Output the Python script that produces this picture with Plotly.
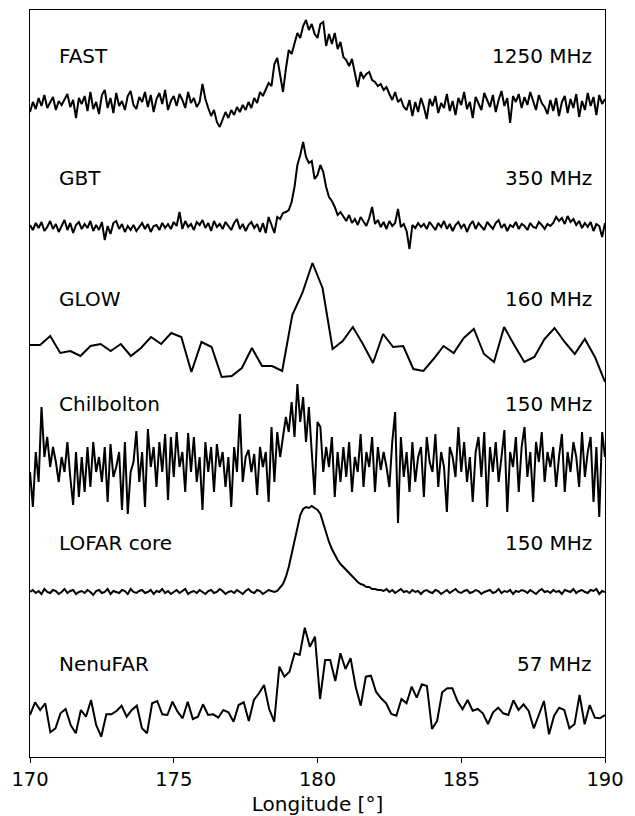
import numpy as np
import plotly.graph_objects as go

# Profile names and observing frequencies
telescopes = ["FAST", "GBT", "GLOW", "Chilbolton", "LOFAR core", "NenuFAR"]
frequencies = ["1250 MHz", "350 MHz", "160 MHz", "150 MHz", "150 MHz", "57 MHz"]

# Profile intensities (arbitrary units), longitude 170..190 deg
fast = [-8, 2, -5, 6, -2, 9, -4, 1, 7, -6,
        3, -1, 5, 10, -3, 4, -14, 6, 0, 8,
        -7, 12, -5, 2, -10, 9, 14, -4, 6, -9,
        11, -2, 3, -6, 8, 13, -1, -5, 7, 2,
        12, -3, 9, -8, 5, 11, 0, 14, -6, 3,
        8, -2, 10, 4, -4, 12, 1, 6, -3, 2,
        20, 5, -4,
        -12, -6, -18, -23, -15, -8,
        -14, -6, -11, -3, -8, -1, -6, 2, -4, 6, 1,
        12, 8, 15, 21, 18, 40, 46, 30, 12, 35,
        54, 50, 60, 71, 66, 78, 84, 74, 80, 70,
        66, 80, 82, 58, 70, 60, 71, 55, 62, 47,
        44, 38, 45, 30, 17, 32, 26, 30, 32, 24,
        22, 18, 20, 14, 17, 10, 4, 12, 2, 5, -3,
        -6, 4, -12, 2, -8, 6, -3, -15, 5, -2,
        8, -9, 1, -4, 10, -7, 3, -11, 6, -1,
        12, -5, 2, -14, 7, 0, -6, 11, 3, -3,
        9, -8, 4, 13, -2, 6, -19, 8, 2, 10,
        -4, 7, -1, 12, 3, -6, 9, 1, -3, -10,
        4, -7, 6, -12, 2, 8, -9, 5, -4, 10,
        -13, 3, -6, 11, -2, 7, -11, 9, 0, 5]

gbt = [2, -3, 4, -1, 5, -4, 0, 6, -2, 3,
       -5, 1, 7, -3, 4, -6, 2, 5, -2, 3,
       -1, 6, -4, 2, -3, 5, -13, 1, -7, 4,
       6, -2, 3, -5, 1, -3, 2, -4, 0, 4,
       -2, 3, -5, 1, 2, -3, 4, -1, 3, -2,
       5, 1, 15, -2, 6, 0, 3, -3, 5, 2,
       7, -1, 4, -4, 6, 0, 3, -2, 5, 1,
       -3, 4, 8, -2, 3, -4, 2, 5, -1, 3,
       -5, 4, -6, 10, 2,
       -6, 10, 8, 14, 15, 17, 25, 40, 62, 72,
       85, 70, 64, 66, 48, 52, 62, 55, 40, 30,
       26, 20, 12, 15, 10, 6, 12, 4,
       8, 2, 10, 5, 1, 9, 20, 3,
       7, 0, 5, -2, 6, 1, 4, 18, 0, 3,
       -4, -22, 2, -1, 4, 0, 3, -2, 5, 1,
       -3, 4, 0, 6, -2, 3, -4, 2, 5, -1,
       3, -5, 2, 6, -2, 4, 0, -3, 5, 1,
       -2, 4, 7, -1, 3, -4, 2, 0, 5, -2,
       3, 1, -3, 4, 0, -1, 5, 2, -2, 3,
       1, 4, 10, 6, 9, 3, 11, 5, 8, 2,
       6, -1, 4, 0, 5, -4, 3, 1, -10, 4]

glow = [2, 2, 11, -6, -4, -9, 1, 3, -4, 3,
        -9, -1, 10, 3, 14, 10, -25, 5, 0, -30,
        -29, -21, -1, -19, -19, -24, 32, 54, 84,
        59, -2, 6, 20, 3, -16, 13, 0, 1, -22,
        -24, -12, 1, -6, 9, 18, -7, -15, 20, 2,
        -15, -10, 8, 19, 5, -7, 8, -10, -35]

chilbolton = [-10, -45, 10, -20, 55, 5, 25, -5, 15, 0,
              -20, 5, -10, 20, -15, -43, 10, -35, 5, -30,
              15, -25, 20, -10, 5, -20, 15, -40, 18, -15,
              -5, 10, -48, 20, -52, -10, 0, 31, -20, 10,
              -45, 33, -5, 15, -25, 20, -10, 28, -38, 25,
              -15, 30, -5, 10, -30, 29, -10, 25, -20, 5,
              -48, 20, -10, 15, -30, 18, -5, 10, -25, 5,
              -45, 15, -10, 48, -20, 5, 12, -10, 8, -33,
              15, -5, 10, -40, 35, -20, 30, 5, 25, 45,
              30, 60, 25, 78, 40, 65, 20, 55, 10, -33,
              40, 35, -10, 15, -5, 25, -35, 10, -20, 15,
              -15, 20, -30, 5, -10, 28, -25, 10, -5, 25,
              -30, 15, -8, 10, -5, -25, 20, 50, -61, 25,
              -15, 10, -30, 20, -20, 5, 15, -35, 25, 0,
              -10, 28, -25, 10, -5, -50, 15, 5, -15, 35,
              -10, 20, -20, 5, -40, 10, 25, -15, 30, -45,
              15, -10, 20, -20, 5, 32, -50, 10, -5, 25,
              -30, 15, 35, -15, 10, -40, 20, 0, 30, -20,
              10, -5, 15, -25, 5, 28, -30, 10, -10, 20,
              5, -25, 30, -15, 10, 25, -40, 15, -55, 30, 5]

lofar = [0, 2, -1, 1, -2, 3, 0, -1, 2, 1,
         -2, 0, 3, -1, 1, 2, -2, 0, 1, -1,
         2, 0, -3, 1, 2, -1, 0, 3, -2, 1,
         0, -1, 2, 1, -2, 3, 0, -1, 1, 2,
         -1, 0, 2, -2, 1, 0, 3, -1, 1, -2,
         0, 2, -1, 1, 3, -2, 0, 1, -1, 2,
         0, -2, 1, 2, -1, 0, 3, 1, -2, 0,
         1, -1, 2, 0, -2, 1, 3, 0, -1, 2,
         1, -2, 0, 2, 1, 0,
         1, 4, 8, 15, 25, 38, 52, 66, 77, 83,
         85, 84, 86, 84, 82, 78, 68, 58, 50, 43,
         37, 32, 28, 25, 21, 18, 15, 12, 10, 8,
         7, 5, 5, 3, 3, 2,
         2, 1, 3, 0, 2, -1, 1, 3, 0, 1,
         -1, 2, 0, 1, -2, 1, 2, 0, -1, 2,
         1, -2, 0, 2, -1, 1, 3, 0, -1, 1,
         2, -1, 0, 2, 1, -2, 0, 1, 2, -1,
         0, 3, -1, 1, 0, 2, -2, 1, 0, 2,
         1, -1, 2, 0, -2, 1, 3, 0, 1, -1,
         2, 0, 1, -2, 2, 1, 0, 3, -1, 1,
         2, 0, -1, 2, 1, 3, -2, 1, 0]

nenufar = [0, 12.7, 5, 11.7, -17.3, -13.3, 1.7, 6, -10, -18.3,
           5, -1.7, 15, -10, -21.7, 0.7, 0.7, 4, 9.3, -1.7,
           5, 9.3, -13.3, -18.3, 11.7, 14, 0.7, 0, 13.3, 3.3,
           -3.3, 13.3, -4, -1.7, 10.7, 0, 0.7, -2.7, 5, 2.7,
           -6.7, 10, 12.7, -6, 15, 21.7, 30, 6, -6.7, 48.3,
           38.3, 43.3, 61.7, 60, 87.3, 68.3, 78.3,
           16, 55, 55, 34, 61.7, 46, 56.7, 28.3, 9.3, 38.3,
           39.3, 23.3, 16.7, 11.7, 1, -0.7, 16, 11.7, 28.3, 17.3,
           30.7, 29, -14, -6, 22.7, 26.7, 26.7, 14, 5.7, 15,
           4.3, 6, 1.7, -9, 2.7, 7.3, 1.7, 0, 14.7, 5,
           10.7, 4, -13.3, 0, 14, -19.3, -0.7, 7.3, 5, -13.3,
           -9.3, 20, -9.3, 10, -2.7, -3.3, 0]

profiles = [fast, gbt, glow, chilbolton, lofar, nenufar]

# Vertical stacking offsets of each profile's baseline and label heights
offsets = [653, 530, 410, 295, 165, 42]
label_heights = [701, 579, 458, 353, 214, 93]

x_min, x_max = 170, 190
x_ticks = [170, 175, 180, 185, 190]

fig = go.Figure()
for vals, off in zip(profiles, offsets):
    v = np.asarray(vals, dtype=float)
    x = np.linspace(x_min, x_max, len(v))
    fig.add_trace(go.Scatter(x=x, y=v + off, mode="lines",
                             line=dict(color="black", width=2),
                             showlegend=False, hoverinfo="skip"))

font_family = "DejaVu Sans"
fs = 20
for name, freq, ly in zip(telescopes, frequencies, label_heights):
    fig.add_annotation(x=170.95, y=ly, text=name, showarrow=False,
                       xanchor="left", yanchor="middle",
                       font=dict(family=font_family, size=fs, color="black"))
    fig.add_annotation(x=189.62, y=ly, text=freq, showarrow=False,
                       xanchor="right", yanchor="middle",
                       font=dict(family=font_family, size=fs, color="black"))

fig.update_layout(
    width=635, height=816,
    margin=dict(l=30, r=30, t=10, b=59),
    paper_bgcolor="white", plot_bgcolor="white",
    font=dict(family=font_family, size=fs, color="black"),
    xaxis=dict(range=[x_min, x_max], tickvals=x_ticks, ticks="outside",
               ticklen=5, tickwidth=1, tickcolor="black",
               tickfont=dict(size=19.5), automargin=False,
               showline=True, linecolor="black", linewidth=1, mirror=True,
               showgrid=False, zeroline=False,
               title=dict(text="Longitude [°]", standoff=10,
                          font=dict(size=fs))),
    yaxis=dict(range=[0, 747], showticklabels=False, ticks="",
               automargin=False,
               showline=True, linecolor="black", linewidth=1, mirror=True,
               showgrid=False, zeroline=False),
)

fig.write_html("out.html")
